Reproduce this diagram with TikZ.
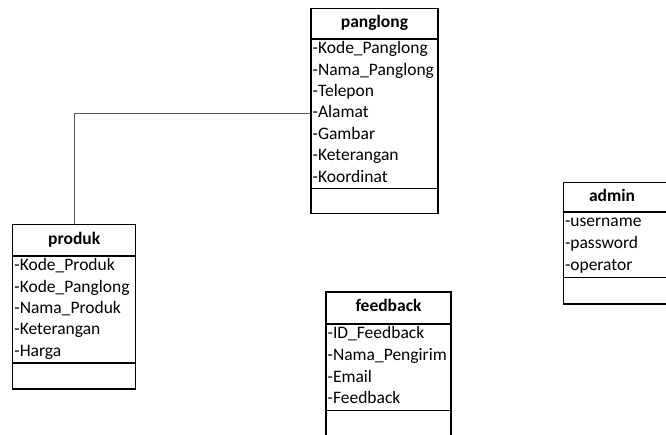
\documentclass[tikz,border=0pt]{standalone}
\usepackage{fontspec}
\setmainfont{Carlito}
\begin{document}
\begin{tikzpicture}[x=1pt,y=-1pt,
  classbox/.style={draw, line width=1.3pt, anchor=north west, inner sep=0pt, outer sep=0pt},
  divider/.style={line width=1.6pt},
  ctitle/.style={font=\fontsize{17.5}{20}\selectfont\bfseries, anchor=center, inner sep=0pt,
    text height=12pt, text depth=4pt},
  attr/.style={font=\fontsize{17.5}{20}\selectfont, anchor=west, inner sep=1.5pt,
    text height=12pt, text depth=4pt},
  link/.style={draw=black!65, line width=0.9pt}]
\useasboundingbox (0,0) rectangle (666,435);
\clip (0,0) rectangle (666,435);

% panglong
\node[classbox, minimum width=127pt, minimum height=205pt] (panglong) at (311,8.3) {};
\draw[divider] (311,39) -- (438,39);
\draw[divider] (311,188.7) -- (438,188.7);
\node[ctitle] (panglongT) at (374.5,23.7) {panglong};
\foreach \t [count=\i] in {Kode\_Panglong,Nama\_Panglong,Telepon,Alamat,Gambar,Keterangan,Koordinat}
  \node[attr] (pg\i) at (311,{39+(\i-0.5)*21.39}) {-\t};

% produk
\node[classbox, minimum width=123pt, minimum height=164.7pt] (produk) at (12.7,224.3) {};
\draw[divider] (12.7,256) -- (135.7,256);
\draw[divider] (12.7,363) -- (135.7,363);
\node[ctitle] (produkT) at (74.2,240.2) {produk};
\foreach \t [count=\i] in {Kode\_Produk,Kode\_Panglong,Nama\_Produk,Keterangan,Harga}
  \node[attr] (pr\i) at (12.7,{256+(\i-0.5)*21.4}) {-\t};

% feedback
\node[classbox, minimum width=125pt, minimum height=170pt] (feedback) at (326,292) {};
\draw[divider] (326,324) -- (451,324);
\draw[divider] (326,410.5) -- (451,410.5);
\node[ctitle] (feedbackT) at (388.5,308) {feedback};
\foreach \t [count=\i] in {ID\_Feedback,Nama\_Pengirim,Email,Feedback}
  \node[attr] (fb\i) at (326,{324+(\i-0.5)*21.6}) {-\t};

% admin
\node[classbox, minimum width=120pt, minimum height=121.3pt] (admin) at (563.3,182.7) {};
\draw[divider] (563.3,212) -- (683.3,212);
\draw[divider] (563.3,277.5) -- (683.3,277.5);
\node[ctitle] (adminT) at (612,197.3) {admin};
\foreach \t [count=\i] in {username,password,operator}
  \node[attr] (ad\i) at (563.3,{212+(\i-0.5)*21.8}) {-\t};

% association panglong -- produk
\draw[link] (panglong.west |- pg4) -| (produk.north);
\end{tikzpicture}
\end{document}
